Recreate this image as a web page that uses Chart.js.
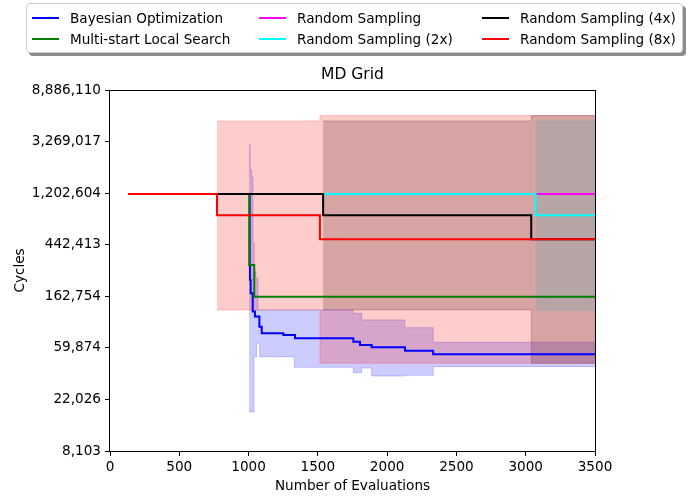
<!DOCTYPE html>
<html>
<head>
<meta charset="utf-8">
<script src="https://cdn.jsdelivr.net/npm/chart.js@4.4.0/dist/chart.umd.min.js"></script>
<style>
  html, body { margin: 0; padding: 0; background: #fff; }
  #wrap { position: relative; width: 690px; height: 497px; }
  #legend {
    position: absolute; left: 26px; top: 3px; width: 655px; height: 48px;
    border: 1px solid #cccccc; border-radius: 4px; background: #fff;
    box-shadow: 3px 3px 0 #8c8c8c;
    font: 13.6px 'DejaVu Sans', sans-serif; color: #000;
  }
  .item { position: absolute; white-space: nowrap; height: 16px; line-height: 16px; }
  .swatch { position: absolute; left: 0; top: 7px; width: 27px; height: 2px; }
  .label { position: absolute; left: 38px; top: 0; }
</style>
</head>
<body>
<div id="wrap">
  <canvas id="chart" width="690" height="497"></canvas>
  <div id="legend"></div>
</div>
<script>
// axis ticks
const xTickStep = 500;
const yTickValues = [8103.08, 22026.47, 59874.14, 162754.79, 442413.39, 1202604.28, 3269017.37, 8886110.52];
const yTickLabels = ['8,103', '22,026', '59,874', '162,754', '442,413', '1,202,604', '3,269,017', '8,886,110'];

// Bayesian Optimization (best so far)
const boX = [1003, 1008, 1010, 1015, 1030, 1046, 1078, 1095, 1251, 1335, 1756, 1804, 1888, 2129, 2332, 3500];
const boY = [1180000, 295000, 223000, 173000, 121000, 110000, 90200, 79300, 76700, 72000, 67400, 63200, 60500, 56600, 52800, 52800];
// Bayesian Optimization band
const boBandX = [1003, 1012, 1022, 1032, 1039, 1041, 1053, 1058, 1068, 1080, 1330, 1755, 1816, 1888, 2128, 2333, 3500];
const boBandHi = [3060000, 1880000, 1650000, 455000, 455000, 262000, 231000, 231000, 125000, 125000, 125000, 117000, 103000, 103000, 88600, 66700, 66700];
const boBandLo = [17300, 17300, 17300, 17300, 50400, 50400, 50400, 65400, 65400, 50400, 41100, 37000, 40500, 34700, 35200, 41600, 41600];

// Multi-start Local Search
const mlsX = [1004, 1005, 1041, 3500];
const mlsY = [1180000, 299000, 161000, 161000];

// Random Sampling
const rsX = [3071, 3500];
const rsY = [1180000, 1180000];
const rs2X = [1538, 3071, 3500];
const rs2Y = [1180000, 783000, 783000];
const rs4X = [772, 1538, 3040, 3500];
const rs4Y = [1180000, 783000, 492000, 492000];
const rs8X = [130, 772, 1515, 3500];
const rs8Y = [1180000, 783000, 492000, 492000];

// Random Sampling bands
const rs2BandX = [3071, 3500];
const rs2BandHi = [4880000, 4880000];
const rs2BandLo = [125000, 125000];
const rs4BandX = [1538, 3040, 3500];
const rs4BandHi = [4880000, 5410000, 5410000];
const rs4BandLo = [125000, 44400, 44400];
const rs8BandX = [772, 1515, 3500];
const rs8BandHi = [4880000, 5410000, 5410000];
const rs8BandLo = [125000, 44400, 44400];

const FONT = 'DejaVu Sans';

function pts(xs, ys) {
    return xs.map((x, i) => ({ x: x, y: ys[i] }));
}

// 'before' in Chart.js = hold the value, then jump at the next x (matplotlib 'post')
function stepLine(label, xs, ys, color) {
    return { label, data: pts(xs, ys), borderColor: color, borderWidth: 2, pointRadius: 0, stepped: 'before', fill: false };
}

// upper + lower edge, filled between them
function band(xs, hi, lo, color) {
    return [
        { label: '', data: pts(xs, hi), borderColor: color, borderWidth: 1, pointRadius: 0, stepped: 'before', fill: false },
        { label: '', data: pts(xs, lo), borderColor: color, borderWidth: 1, pointRadius: 0, stepped: 'before', fill: '-1', backgroundColor: color },
    ];
}

// listed bottom first
const datasets = [
    ...band(boBandX, boBandHi, boBandLo, 'rgba(0,0,255,0.2)'),
    ...band(rs2BandX, rs2BandHi, rs2BandLo, 'rgba(0,255,255,0.2)'),
    ...band(rs4BandX, rs4BandHi, rs4BandLo, 'rgba(0,0,0,0.2)'),
    ...band(rs8BandX, rs8BandHi, rs8BandLo, 'rgba(255,0,0,0.2)'),
    stepLine('Bayesian Optimization', boX, boY, '#0000ff'),
    stepLine('Multi-start Local Search', mlsX, mlsY, '#008000'),
    stepLine('Random Sampling', rsX, rsY, '#ff00ff'),
    stepLine('Random Sampling (2x)', rs2X, rs2Y, '#00ffff'),
    stepLine('Random Sampling (4x)', rs4X, rs4Y, '#000000'),
    stepLine('Random Sampling (8x)', rs8X, rs8Y, '#ff0000'),
];
// Chart.js paints lower order last, so reverse the order numbers
datasets.forEach((d, i) => { d.order = datasets.length - i; });

// frame, title and axis names
const decorations = {
    id: 'decorations',
    afterDatasetsDraw(chart) {
        const { ctx, chartArea: a } = chart;
        ctx.save();
        ctx.strokeStyle = '#000';
        ctx.lineWidth = 1;
        ctx.strokeRect(Math.round(a.left) - 0.5, Math.round(a.top) + 0.5, Math.round(a.right - a.left) + 1, Math.round(a.bottom - a.top));
        ctx.fillStyle = '#000';
        ctx.textAlign = 'center';
        ctx.textBaseline = 'middle';
        ctx.font = '15.5px "' + FONT + '"';
        ctx.fillText('MD Grid', (a.left + a.right) / 2, 75);
        ctx.font = '13.6px "' + FONT + '"';
        ctx.fillText('Number of Evaluations', (a.left + a.right) / 2, 486);
        ctx.translate(20, (a.top + a.bottom) / 2);
        ctx.rotate(-Math.PI / 2);
        ctx.fillText('Cycles', 0, 0);
        ctx.restore();
    }
};

Chart.defaults.font.family = FONT;
Chart.defaults.font.size = 13.6;
Chart.defaults.color = '#000';

new Chart(document.getElementById('chart'), {
    type: 'line',
    data: { datasets },
    options: {
        responsive: false,
        animation: false,
        devicePixelRatio: 1,
        events: [],
        layout: { padding: { top: 90, right: 95, left: 0, bottom: 0 } },
        plugins: { legend: { display: false }, tooltip: { enabled: false }, title: { display: false } },
        scales: {
            x: {
                type: 'linear',
                min: 0,
                max: 3500,
                ticks: { stepSize: xTickStep, padding: 3, maxRotation: 0, callback: v => String(v) },
                grid: { drawOnChartArea: false, tickLength: 5, color: '#000' },
                border: { display: false },
                afterFit: s => { s.height = 46; },
            },
            y: {
                type: 'logarithmic',
                min: yTickValues[0],
                max: yTickValues[yTickValues.length - 1],
                afterBuildTicks: s => { s.ticks = yTickValues.map(v => ({ value: v })); },
                ticks: { padding: 4, autoSkip: false, callback: (v, i) => yTickLabels[i] },
                grid: { drawOnChartArea: false, tickLength: 5, color: '#000' },
                border: { display: false },
                afterFit: s => { s.width = 110; },
            },
        },
    },
    plugins: [decorations],
});

// legend in matplotlib's column order
const legendItems = [
    { label: 'Bayesian Optimization', color: '#0000ff', col: 0, row: 0 },
    { label: 'Multi-start Local Search', color: '#008000', col: 0, row: 1 },
    { label: 'Random Sampling', color: '#ff00ff', col: 1, row: 0 },
    { label: 'Random Sampling (2x)', color: '#00ffff', col: 1, row: 1 },
    { label: 'Random Sampling (4x)', color: '#000000', col: 2, row: 0 },
    { label: 'Random Sampling (8x)', color: '#ff0000', col: 2, row: 1 },
];
const colLeft = [5, 232, 455];
const rowTop = [5.5, 26.5];
const legend = document.getElementById('legend');
legendItems.forEach(it => {
    const el = document.createElement('div');
    el.className = 'item';
    el.style.left = colLeft[it.col] + 'px';
    el.style.top = rowTop[it.row] + 'px';
    el.innerHTML = '<span class="swatch" style="background:' + it.color + '"></span><span class="label"></span>';
    el.querySelector('.label').textContent = it.label;
    legend.appendChild(el);
});
</script>
</body>
</html>
